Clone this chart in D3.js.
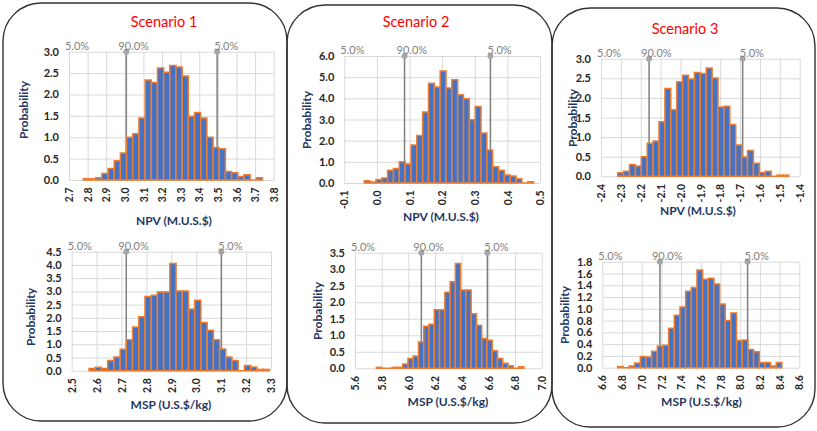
<!DOCTYPE html>
<html><head><meta charset="utf-8">
<script src="https://cdn.jsdelivr.net/npm/d3@7"></script>
<style>
html,body{margin:0;padding:0;background:#fff;}
svg{display:block;}
text{font-family:Lato,"Open Sans",sans-serif;}
</style></head>
<body>
<svg id="c" width="817" height="431"></svg>
<script>
// ---------- DATA ----------
const scenarioTitles = ["Scenario 1", "Scenario 2", "Scenario 3"];
const npvTitle = "NPV (M.U.S.$)";
const mspTitle = "MSP (U.S.$/kg)";
const yTitle = "Probability";
const pctLabels = ["5.0%", "90.0%", "5.0%"];

// Scenario 1 NPV
const s1NpvProb = [0.03,0.03,0.05,0.15,0.27,0.45,0.63,1.0,1.08,1.45,2.34,2.28,2.62,2.52,2.68,2.64,2.43,1.49,1.58,1.45,1.0,0.76,0.73,0.2,0.17,0.08,0.12,0.0,0.05];
const s1NpvBin = [2.777, 0.0332];           // first bin edge, bin width
const s1NpvMarks = [3.008, 3.496];
const s1NpvXTicks = [2.7,2.8,2.9,3.0,3.1,3.2,3.3,3.4,3.5,3.6,3.7,3.8];
const s1NpvYTicks = [0,0.5,1.0,1.5,2.0,2.5,3.0];

// Scenario 2 NPV
const s2NpvProb = [0.11,0.05,0.17,0.24,0.6,0.68,1.0,0.9,1.8,2.24,3.35,4.71,4.54,5.29,4.49,4.88,4.17,3.98,2.99,3.61,2.36,1.56,0.77,0.6,0.38,0.33,0.2,0.0,0.06];
const s2NpvBin = [-0.0388, 0.0179];
const s2NpvMarks = [0.0847, 0.348];
const s2NpvXTicks = [-0.1,0.0,0.1,0.2,0.3,0.4,0.5];
const s2NpvYTicks = [0,1,2,3,4,5,6];

// Scenario 3 NPV
const s3NpvProb = [0.09,0.13,0.3,0.26,0.5,0.84,0.9,1.39,2.24,1.7,2.41,2.58,2.48,2.65,2.62,2.76,2.51,1.77,1.79,1.32,0.8,0.49,0.66,0.33,0.1,0.13,0.0,0.03,0.03];
const s3NpvBin = [-2.316, 0.0297];
const s3NpvMarks = [-2.158, -1.687];
const s3NpvXTicks = [-2.4,-2.3,-2.2,-2.1,-2.0,-1.9,-1.8,-1.7,-1.6,-1.5,-1.4];
const s3NpvYTicks = [0,0.5,1.0,1.5,2.0,2.5,3.0];

// Scenario 1 MSP
const s1MspProb = [0.08,0.13,0.08,0.39,0.52,0.81,1.17,1.65,2.04,2.81,2.85,2.98,2.98,4.05,3.01,3.01,2.33,2.66,1.82,1.53,1.17,0.82,0.52,0.39,0.0,0.2,0.14,0.05,0.05];
const s1MspBin = [2.5696, 0.02495];
const s1MspMarks = [2.719, 3.1007];
const s1MspXTicks = [2.5,2.6,2.7,2.8,2.9,3.0,3.1,3.2,3.3];
const s1MspYTicks = [0,0.5,1.0,1.5,2.0,2.5,3.0,3.5,4.0,4.5];

// Scenario 2 MSP
const s2MspProb = [0.03,0.0,0.0,0.03,0.03,0.13,0.3,0.37,0.8,1.27,1.33,1.77,1.77,2.3,2.62,3.17,2.37,2.37,1.65,1.3,0.9,0.85,0.53,0.3,0.15,0.08,0.0,0.05];
const s2MspBin = [5.76, 0.0395];
const s2MspMarks = [6.0975, 6.5925];
const s2MspXTicks = [5.6,5.8,6.0,6.2,6.4,6.6,6.8,7.0];
const s2MspYTicks = [0,0.5,1.0,1.5,2.0,2.5,3.0,3.5];

// Scenario 3 MSP
const s3MspProb = [0.02,0.0,0.03,0.08,0.19,0.18,0.28,0.37,0.38,0.67,0.89,1.03,1.3,1.36,1.66,1.5,1.52,1.42,1.08,0.8,0.93,0.46,0.47,0.31,0.27,0.09,0.09,0.03,0.09];
const s3MspBin = [6.756, 0.0575];
const s3MspMarks = [7.185, 8.075];
const s3MspXTicks = [6.6,6.8,7.0,7.2,7.4,7.6,7.8,8.0,8.2,8.4,8.6];
const s3MspYTicks = [0,0.2,0.4,0.6,0.8,1.0,1.2,1.4,1.6,1.8];

// ---------- LAYOUT ----------
const svg = d3.select("#c");
const C = {bar:"#4472c4", barStroke:"#ed7d31", grid:"#d9d9d9", mark:"#7f7f7f", dot:"#a6a6a6",
           title:"#ff0000", axisTitle:"#1f3864", tick:"#262626", pct:"#7f7f7f", frame:"#333"};
const fmt = d => (+d).toFixed(1);   // hyphen-minus like the original

// frames
const frames = [
  {x:3, y:3, w:284, h:418, r:38},
  {x:287, y:5, w:265, h:418, r:38},
  {x:552, y:8, w:263, h:419, r:38}
];
frames.forEach(f=>{
  svg.append("rect").attr("x",f.x).attr("y",f.y).attr("width",f.w).attr("height",f.h)
    .attr("rx",f.r).attr("ry",f.r).attr("fill","none").attr("stroke",C.frame).attr("stroke-width",1.4);
});

const titlePos = [[164,26.5],[416,26.5],[685,34]];
scenarioTitles.forEach((t,i)=>{
  svg.append("text").attr("x",titlePos[i][0]).attr("y",titlePos[i][1]).attr("text-anchor","middle")
    .attr("fill",C.title).attr("font-size",14.5).text(t);
});

const panels = [
  {prob:s1NpvProb, bin:s1NpvBin, marks:s1NpvMarks, xt:s1NpvXTicks, yt:s1NpvYTicks, xlab:npvTitle,
   box:[69,273.7,51.7,180], ylab:[24,110], xlabPos:[174,225]},
  {prob:s2NpvProb, bin:s2NpvBin, marks:s2NpvMarks, xt:s2NpvXTicks, yt:s2NpvYTicks, xlab:npvTitle,
   box:[344.3,540,56,183], ylab:[307,120], xlabPos:[441,221]},
  {prob:s3NpvProb, bin:s3NpvBin, marks:s3NpvMarks, xt:s3NpvXTicks, yt:s3NpvYTicks, xlab:npvTitle,
   box:[601,799.7,58.7,176.3], ylab:[573,118], xlabPos:[698,214.5]},
  {prob:s1MspProb, bin:s1MspBin, marks:s1MspMarks, xt:s1MspXTicks, yt:s1MspYTicks, xlab:mspTitle,
   box:[71.7,271,251.7,370.7], ylab:[31,317], xlabPos:[171,409]},
  {prob:s2MspProb, bin:s2MspBin, marks:s2MspMarks, xt:s2MspXTicks, yt:s2MspYTicks, xlab:mspTitle,
   box:[355,541.7,252.7,368.3], ylab:[317.5,311], xlabPos:[448,406]},
  {prob:s3MspProb, bin:s3MspBin, marks:s3MspMarks, xt:s3MspXTicks, yt:s3MspYTicks, xlab:mspTitle,
   box:[602.3,799.3,261.7,367.7], ylab:[565,315], xlabPos:[701.5,406]}
];

panels.forEach(p=>{
  const [x0,x1,y0,y1] = p.box;
  const x = d3.scaleLinear().domain([p.xt[0], p.xt[p.xt.length-1]]).range([x0,x1]);
  const y = d3.scaleLinear().domain([0, p.yt[p.yt.length-1]]).range([y1,y0]);
  const g = svg.append("g");
  // grid + y axis
  const gy = g.append("g").attr("transform",`translate(${x0},0)`)
    .call(d3.axisLeft(y).tickValues(p.yt).tickSize(-(x1-x0)).tickFormat(fmt).tickPadding(10));
  gy.select(".domain").remove();
  gy.selectAll(".tick line").attr("stroke",C.grid);
  gy.selectAll(".tick text").attr("fill",C.tick).attr("font-size",11).attr("font-weight","bold")
    .attr("font-family","Lato,sans-serif");
  // grid + x axis
  const gx = g.append("g").attr("transform",`translate(0,${y1})`)
    .call(d3.axisBottom(x).tickValues(p.xt).tickSize(-(y1-y0)).tickFormat(fmt));
  gx.select(".domain").remove();
  gx.selectAll(".tick line").attr("stroke",C.grid);
  gx.selectAll(".tick text").attr("fill",C.tick).attr("font-size",10.5).attr("font-weight","bold")
    .attr("font-family","Lato,sans-serif")
    .attr("transform","rotate(-90)").attr("text-anchor","end")
    .attr("x",-7.5).attr("y",0).attr("dy","0.35em");
  // marker lines
  p.marks.forEach(m=>{
    g.append("line").attr("x1",x(m)).attr("x2",x(m)).attr("y1",y0).attr("y2",y1)
      .attr("stroke",C.mark).attr("stroke-width",1.5);
  });
  // bars
  const bw = p.bin[1], b0 = p.bin[0];
  g.append("g").selectAll("path").data(p.prob).join("path")
    .attr("d",(v,i)=>{
      const a = x(b0+i*bw), b = x(b0+(i+1)*bw);
      return `M${a},${y(0)}V${y(v)}H${b}V${y(0)}Z`;
    })
    .attr("fill",C.bar).attr("stroke",C.barStroke).attr("stroke-width",1.5);
  // marker dots
  p.marks.forEach(m=>{
    g.append("circle").attr("cx",x(m)).attr("cy",y0).attr("r",3).attr("fill",C.dot);
  });
  // pct labels
  const lp = [x0-4, x(p.marks[0])-8, x(p.marks[1])-3];
  pctLabels.forEach((t,i)=>{
    g.append("text").attr("x",lp[i]).attr("y",y0-2).attr("fill",C.pct).attr("font-size",11).text(t);
  });
  // axis titles
  g.append("text").attr("transform",`translate(${p.ylab[0]},${p.ylab[1]}) rotate(-90)`)
    .attr("text-anchor","middle").attr("dy","0.35em").attr("fill",C.axisTitle)
    .attr("font-size",12).attr("font-weight","bold").text(yTitle);
  g.append("text").attr("x",p.xlabPos[0]).attr("y",p.xlabPos[1]).attr("text-anchor","middle")
    .attr("fill",C.axisTitle).attr("font-size",12).attr("font-weight","bold").text(p.xlab);
});
</script>
</body></html>
